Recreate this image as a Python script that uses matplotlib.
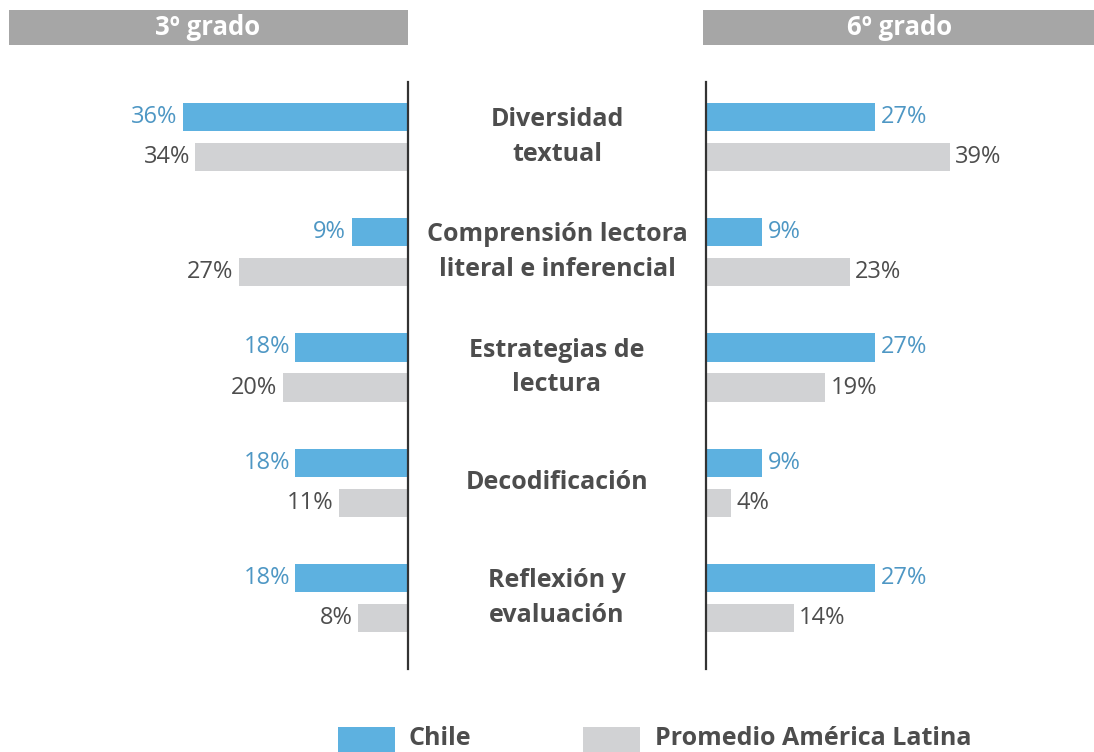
import matplotlib
matplotlib.use("Agg")
import numpy as np
from matplotlib import pyplot as plt
from matplotlib.patches import Rectangle
from matplotlib.transforms import blended_transform_factory

# data
categorias = ["Diversidad\ntextual", "Comprensión lectora\nliteral e inferencial",
              "Estrategias de\nlectura", "Decodificación", "Reflexión y\nevaluación"]
chile_3 = [36, 9, 18, 18, 18]
latam_3 = [34, 27, 20, 11, 8]
chile_6 = [27, 9, 27, 9, 27]
latam_6 = [39, 23, 19, 4, 14]
paneles = ["3º grado", "6º grado"]
series = ["Chile", "Promedio América Latina"]

W, H = 1094, 752
AZUL = "#5DB1E0"
GRIS = "#D1D2D4"
TXT_AZUL = "#4E97C4"
TXT_GRIS = "#4D4D4D"
HEAD = "#A6A6A6"

plt.rcParams['font.family'] = ['Open Sans', 'DejaVu Sans']

fig = plt.figure(figsize=(W / 100, H / 100), dpi=100)

y = np.arange(len(categorias))
off = 0.174
bh = 0.245
bot = (H - 669) / H
hgt = 587 / H

def panel(left_px, width_px, chile, latam, inverted):
    ax = fig.add_axes([left_px / W, bot, width_px / W, hgt])
    ax.barh(y - off, chile, height=bh, color=AZUL)
    ax.barh(y + off, latam, height=bh, color=GRIS)
    span = width_px / 6.25
    if inverted:
        ax.set_xlim(span, 0)
    else:
        ax.set_xlim(0, span)
    ax.set_ylim(4.616, -0.477)
    for s in ax.spines.values():
        s.set_visible(False)
    sp = ax.spines['right' if inverted else 'left']
    sp.set_visible(True)
    sp.set_color("#333333")
    sp.set_linewidth(1.6)
    ax.set_xticks([])
    ax.set_yticks([])
    ax.patch.set_alpha(0)
    ha = 'right' if inverted else 'left'
    d = 0.9
    for i in range(len(chile)):
        ax.text(chile[i] + d, y[i] - off, f"{chile[i]}%", ha=ha, va='center',
                fontsize=17, color=TXT_AZUL)
        ax.text(latam[i] + d, y[i] + off, f"{latam[i]}%", ha=ha, va='center',
                fontsize=17, color=TXT_GRIS)
    return ax

axl = panel(8, 400, chile_3, latam_3, True)
axr = panel(706, 388, chile_6, latam_6, False)

# category labels in the middle
tr = blended_transform_factory(fig.transFigure, axl.transData)
for i, c in enumerate(categorias):
    axl.text(557 / W, y[i], c, transform=tr, ha='center', va='center',
             fontsize=18, fontweight='bold', color=TXT_GRIS, linespacing=1.5,
             clip_on=False)

# headers
for (x0, x1, cx), lab in zip([(9, 408, 208), (703, 1094, 900)], paneles):
    fig.add_artist(Rectangle((x0 / W, 1 - 45 / H), (x1 - x0) / W, 35 / H,
                             transform=fig.transFigure, color=HEAD, lw=0))
    fig.text(cx / W, 1 - 27.5 / H, lab, ha='center', va='center', fontsize=18.5,
             fontweight='bold', color='white')

# legend (squares run off the bottom edge as in the original)
for (x0, tx), lab, col in zip([(338, 408), (583, 655)], series, [AZUL, GRIS]):
    fig.add_artist(Rectangle((x0 / W, 0), 57 / W, 25 / H,
                             transform=fig.transFigure, color=col, lw=0))
    fig.text(tx / W, 1 / H, lab, ha='left', va='bottom', fontsize=18,
             fontweight='bold', color=TXT_GRIS)

fig.savefig("out.png", dpi=100, facecolor="white")
